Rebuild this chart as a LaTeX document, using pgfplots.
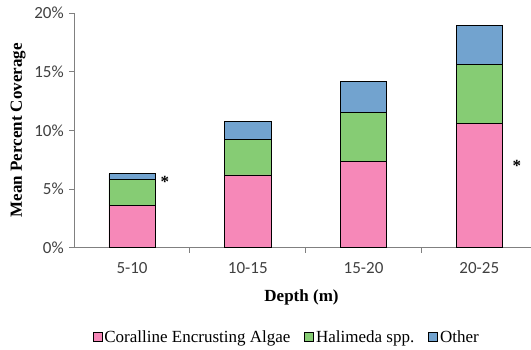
\documentclass[border=0pt]{standalone}
\usepackage{fontspec}
\setmainfont{Liberation Serif}
\newfontfamily\calibri{Carlito}
\usepackage{pgfplots}
\pgfplotsset{compat=1.18}
\definecolor{cpink}{RGB}{246,136,184}
\definecolor{cgreen}{RGB}{134,204,116}
\definecolor{cblue}{RGB}{114,163,207}
\definecolor{axgray}{RGB}{128,128,128}
\definecolor{txtgray}{RGB}{64,64,64}
\begin{document}
\begin{tikzpicture}
\path[use as bounding box] (-74.2pt,-101.3pt) rectangle (456.8pt,247.7pt);
\begin{axis}[
  at={(0pt,0pt)}, anchor=south west,
  scale only axis, width=463pt, height=234.7pt,
  xmin=-0.5, xmax=3.5, ymin=0, ymax=20,
  ybar stacked, bar width=0.4,
  axis x line*=bottom, axis y line*=left,
  axis line style={axgray, line width=0.9pt, -},
  tick align=outside,
  ytick={0,5,10,15,20},
  yticklabels={0\%,5\%,10\%,15\%,20\%},
  xtick={0,1,2,3},
  xticklabels={5-10,10-15,15-20,20-25},
  minor xtick={0.5,1.5,2.5,3.5},
  major x tick style={draw=none},
  major tick length=5pt, minor tick length=5pt,
  every tick/.style={axgray, line width=0.9pt},
  tick label style={font=\calibri\fontsize{17}{20}\selectfont, text=txtgray},
  xticklabel style={yshift=-6pt},
  yticklabel style={xshift=-2pt},
  xlabel={Depth (m)},
  ylabel={Mean Percent Coverage},
  label style={font=\bfseries\fontsize{17}{20}\selectfont},
  xlabel style={at={(axis description cs:0.491,-0.21)}, anchor=center},
  ylabel style={at={(axis description cs:-0.121,0.5)}, anchor=center},
  legend columns=3,
  legend style={draw=none, at={(axis description cs:0.459,-0.38)}, anchor=center,
    font=\fontsize{17}{20}\selectfont,
    /tikz/every even column/.append style={column sep=12pt}},
  legend image code/.code={\draw[#1, draw=black, line width=0.7pt] (0pt,-4.5pt) rectangle (9pt,4.5pt);},
]
\addplot[fill=cpink, draw=black, line width=0.8pt] coordinates {(0,3.6) (1,6.2) (2,7.35) (3,10.55)};
\addplot[fill=cgreen, draw=black, line width=0.8pt] coordinates {(0,2.2) (1,3.0) (2,4.15) (3,5.05)};
\addplot[fill=cblue, draw=black, line width=0.8pt] coordinates {(0,0.5) (1,1.55) (2,2.65) (3,3.35)};
\legend{Coralline Encrusting Algae, Halimeda spp., Other}
\node[font=\bfseries\fontsize{17}{20}\selectfont] at (axis cs:0.284,5.6) {*};
\node[font=\bfseries\fontsize{17}{20}\selectfont] at (axis cs:3.324,6.95) {*};
\end{axis}
\end{tikzpicture}
\end{document}
